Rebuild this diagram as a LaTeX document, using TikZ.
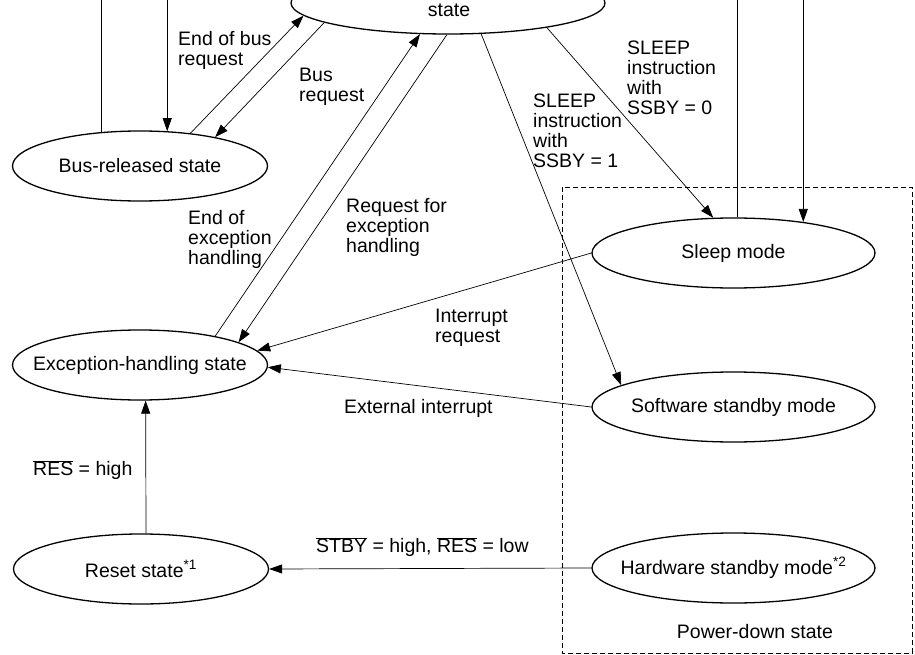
\documentclass[tikz,border=0pt]{standalone}
\usepackage{fontspec}
\setmainfont{Liberation Sans}
\usetikzlibrary{arrows.meta,shapes.geometric}
\newcommand\ovl[1]{$\overline{\hbox{#1}}$}
\begin{document}
\begin{tikzpicture}[x=1pt,y=-1pt,
 every node/.style={font=\fontsize{19.5}{20}\selectfont},
 st/.style={ellipse,draw,line width=1.3pt,inner sep=0pt,minimum width=255pt,minimum height=70pt},
 pd/.style={st,minimum width=283pt},
 con/.style={line width=0.7pt},
 arr/.style={con,-{Triangle[length=13pt,width=9pt]}},
 lbl/.style={align=left,anchor=west,inner sep=0pt}]
\useasboundingbox (0,0) rectangle (915,655);
\clip (0,0) rectangle (915,655);
\coordinate (top) at (0,-30);

\node[st,minimum width=314pt,minimum height=62pt] (P) at (448,3) {};
\node (Pt) at (449,10) {state};
\node[st,label={center:Bus-released state}] (Br) at (140,166) {};
\node[st,label={center:Exception-handling state}] (Ex) at (140,365) {};
\node[st,label={center:Reset state\textsuperscript{*1}}] (Rs) at (141,569) {};
\node[pd,label={center:Sleep mode}] (Sl) at (733.5,253) {};
\node[pd,label={center:Software standby mode}] (Sw) at (733.5,407) {};
\node[pd,label={center:Hardware standby mode\textsuperscript{*2}}] (Hw) at (733.5,568) {};

\draw[con,dash pattern=on 5pt off 3pt] (562,187) rectangle (912,653);
\node (pdl) at (755,632) {Power-down state};

\draw[con] (Br.139.5) -- (Br.139.5 |- top);
\draw[arr] (Br.52.8 |- top) -- (Br.52.8);
\draw[arr] (Br.33.3) -- (P.185.8);
\draw[arr] (P.189.9) -- (Br.21.5);
\draw[arr] (Ex.21) -- (P.228);
\draw[arr] (P.268.1) -- (Ex.13.6);
\draw[arr] (P.317.8) -- (Sw.169.3);
\draw[arr] (P.346.5) -- (Sl.120.4);
\draw[con] (Sl.84.3) -- (Sl.84.3 |- top);
\draw[arr] (Sl.24.9 |- top) -- (Sl.24.9);
\draw[arr] (Sl.west) -- (Ex.7);
\draw[arr] (Sw.west) -- (Ex.-1.3);
\draw[arr] (Rs.82.5) -- (Ex.-81.9);
\draw[arr] (Hw.west) -- (Rs.east);

\node[lbl] (l1) at (178,50) {End of bus\\request};
\node[lbl] (l2) at (299,87) {Bus\\request};
\node[lbl] (l3) at (188,239) {End of\\exception\\handling};
\node[lbl] (l4) at (346,227) {Request for\\exception\\handling};
\node[lbl] (l5) at (627,78) {SLEEP\\instruction\\with\\SSBY = 0};
\node[lbl] (l6) at (533,131) {SLEEP\\instruction\\with\\SSBY = 1};
\node[lbl] (l7) at (435,328) {Interrupt\\request};
\node[lbl] (l8) at (344,408) {External interrupt};
\node[lbl] (l9) at (33,470) {\ovl{RES} = high};
\node[lbl] (l10) at (316,547) {\ovl{STBY} = high, \ovl{RES} = low};
\end{tikzpicture}
\end{document}
